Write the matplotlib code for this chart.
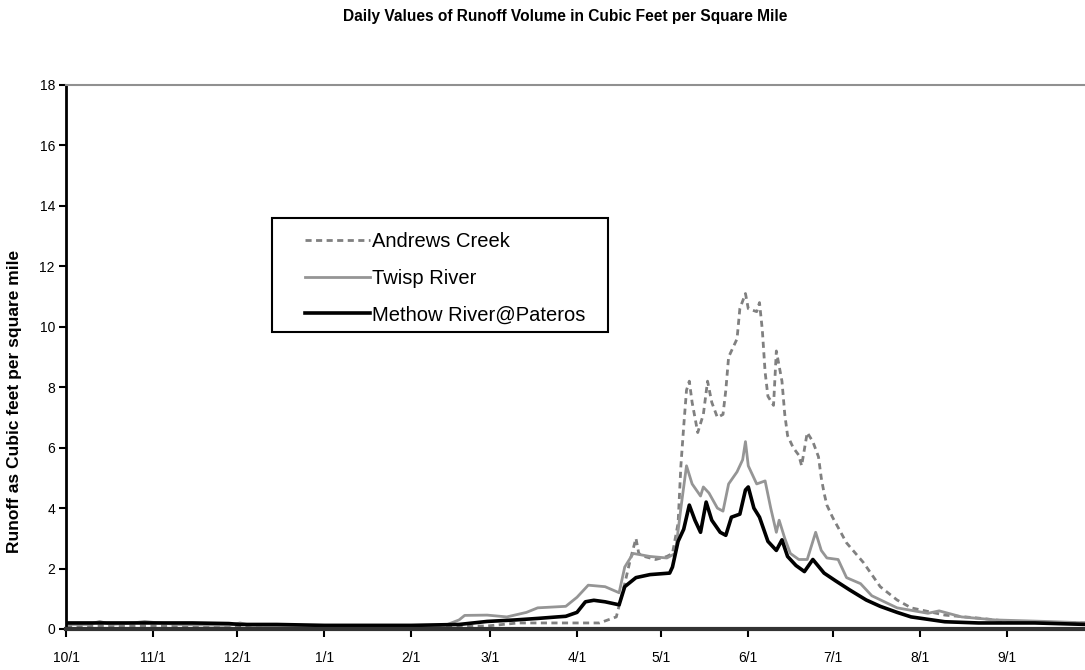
import matplotlib
matplotlib.use("Agg")
import matplotlib.pyplot as plt
import matplotlib.dates as mdates
from matplotlib.patches import Rectangle
import pandas as pd

# ---------------- data ----------------
title = "Daily Values of Runoff Volume in Cubic Feet per Square Mile"
ylabel = "Runoff as Cubic feet per square mile"
series_names = ["Andrews Creek", "Twisp River", "Methow River@Pateros"]
water_year_start = "2002-10-01"

# day of water year (0 = Oct 1) and runoff values
andrews_day = [0, 30, 60, 92, 123, 150, 161, 190, 196, 199, 201, 203, 204, 206, 210,
               214, 216, 218, 219, 220, 221, 222, 223, 225, 227, 228.5, 230, 232, 234,
               235, 236, 239, 240, 242, 243, 246, 247, 248, 249, 250, 252, 253, 255,
               256, 257, 259, 261, 262, 264, 266, 268, 269, 270, 271, 273, 278, 284,
               290, 296, 301, 313, 325, 337, 364]
andrews_val = [0.1, 0.1, 0.08, 0.08, 0.08, 0.1, 0.2, 0.2, 0.4, 1.5, 2.3, 3.0, 2.5, 2.4, 2.3,
               2.4, 2.5, 3.5, 5.4, 6.7, 7.9, 8.2, 7.5, 6.5, 7.1, 8.2, 7.5, 7.0, 7.1,
               7.9, 9.0, 9.6, 10.6, 11.1, 10.6, 10.5, 10.8, 9.9, 8.5, 7.7, 7.4, 9.2, 8.2,
               7.1, 6.4, 6.0, 5.75, 5.4, 6.5, 6.2, 5.7, 5.0, 4.5, 4.1, 3.7, 2.85, 2.2,
               1.4, 0.96, 0.7, 0.46, 0.36, 0.24, 0.2]

twisp_day = [0, 8, 12, 16, 24, 28, 33, 40, 58, 62, 66, 80, 100, 123, 135, 140, 142,
             150, 157, 164, 168, 178, 182, 186, 192, 197, 199, 202, 208, 214, 217, 219,
             221, 223, 226, 227, 229, 232, 234, 236, 239, 241, 242, 243, 246, 249, 251,
             253, 254, 256, 258, 261, 264, 267, 269, 271, 275, 278, 283, 287, 296, 307,
             311, 319, 331, 349, 364]
twisp_val = [0.15, 0.15, 0.25, 0.15, 0.2, 0.25, 0.2, 0.15, 0.12, 0.2, 0.12, 0.1, 0.1, 0.1, 0.12, 0.3, 0.45,
             0.46, 0.4, 0.55, 0.7, 0.75, 1.05, 1.45, 1.4, 1.2, 2.05, 2.5, 2.4, 2.35, 2.5, 4.0,
             5.4, 4.8, 4.4, 4.7, 4.5, 4.0, 3.9, 4.8, 5.2, 5.6, 6.2, 5.4, 4.8, 4.9, 4.0,
             3.2, 3.6, 3.0, 2.5, 2.3, 2.3, 3.2, 2.6, 2.35, 2.3, 1.7, 1.5, 1.1, 0.7, 0.52,
             0.6, 0.4, 0.3, 0.25, 0.2]

methow_day = [0, 10, 20, 31, 45, 58, 62, 75, 92, 110, 123, 140, 145, 150, 160, 168, 175,
              178, 182, 185, 188, 192, 197, 199, 203, 208, 215, 216, 218, 220, 222, 224,
              226, 228, 230, 233, 235, 237, 240, 242, 243, 245, 247, 250, 253, 255, 257,
              260, 263, 266, 270, 274, 279, 285, 290, 296, 301, 313, 325, 345, 364]
methow_val = [0.2, 0.2, 0.2, 0.2, 0.2, 0.18, 0.15, 0.15, 0.12, 0.12, 0.12, 0.15, 0.2, 0.25, 0.3, 0.35, 0.4,
              0.42, 0.55, 0.9, 0.95, 0.9, 0.8, 1.4, 1.7, 1.8, 1.85, 2.05, 2.9, 3.3, 4.1, 3.6,
              3.2, 4.2, 3.6, 3.2, 3.1, 3.7, 3.8, 4.6, 4.7, 4.0, 3.7, 2.9, 2.6, 2.95, 2.4,
              2.1, 1.9, 2.3, 1.85, 1.6, 1.3, 0.96, 0.75, 0.55, 0.4, 0.24, 0.2, 0.2, 0.15]

y_ticks = [0, 2, 4, 6, 8, 10, 12, 14, 16, 18]

# ---------------- plotting ----------------
plt.rcParams["font.family"] = ["Liberation Sans", "DejaVu Sans"]

W, H = 1085, 670
start = pd.Timestamp(water_year_start)
def to_dates(days):
    return [start + pd.Timedelta(days=d) for d in days]

fig = plt.figure(figsize=(W / 100, H / 100), dpi=100)
ax = fig.add_axes([66 / W, 41 / H, 1022 / W, 544 / H])

ax.plot(to_dates(andrews_day), andrews_val, color="#808080", lw=2.0,
        linestyle=(0, (2.2, 1.6)), label=series_names[0])
ax.plot(to_dates(twisp_day), twisp_val, color="#959595", lw=2.0,
        label=series_names[1])
ax.plot(to_dates(methow_day), methow_val, color="black", lw=2.6,
        label=series_names[2])

ax.set_xlim(start, start + pd.Timedelta(days=364))
ax.set_ylim(0, 18)
ax.set_yticks(y_ticks)
ax.set_yticklabels([str(t) for t in y_ticks], fontsize=10)
ax.xaxis.set_major_locator(mdates.MonthLocator())
ax.xaxis.set_major_formatter(mdates.DateFormatter("%-m/%-d"))
for lab in ax.get_xticklabels():
    lab.set_fontsize(10)

ax.spines["top"].set_color("#909090")
ax.spines["top"].set_linewidth(1.5)
ax.spines["right"].set_visible(False)
ax.spines["left"].set_linewidth(2.0)
ax.spines["bottom"].set_linewidth(3.0)
ax.spines["bottom"].set_color("#333333")
ax.tick_params(axis="y", direction="out", length=5, width=1.5, pad=3)
ax.tick_params(axis="x", direction="out", length=6, width=1.5, pad=10)

ax.set_ylabel(ylabel, fontsize=12.5, fontweight="bold")
ax.yaxis.set_label_coords(-0.043, 0.419)
fig.text(565 / W, 1 - 16 / H, title, ha="center", va="center",
         fontsize=11.2, fontweight="bold")

# legend frame and content
ax.add_patch(Rectangle((272 / W, 1 - 332 / H), 336 / W, 114 / H,
                       transform=fig.transFigure, facecolor="white",
                       edgecolor="black", linewidth=1.5, zorder=5,
                       clip_on=False))
leg = ax.legend(loc="upper left", bbox_to_anchor=(305 / W, 1 - 232 / H),
                bbox_transform=fig.transFigure, fontsize=14.5, frameon=False,
                handlelength=3.25, handletextpad=0.1, borderpad=0,
                labelspacing=0.88, borderaxespad=0)
leg.set_zorder(6)

fig.savefig("out.png", dpi=100)
